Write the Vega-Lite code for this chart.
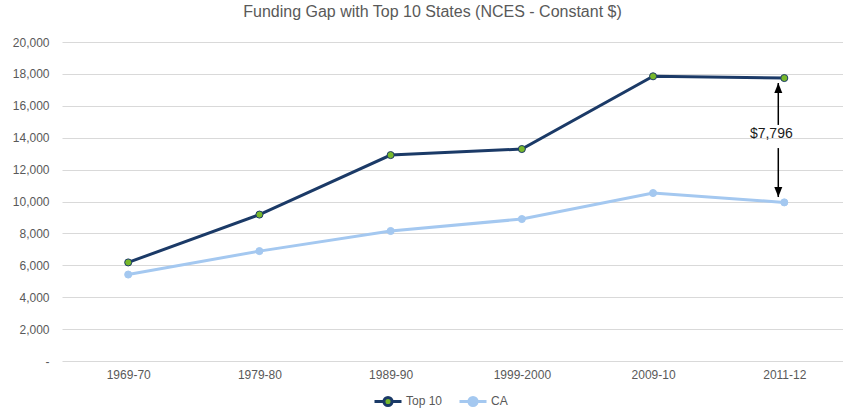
{
  "$schema": "https://vega.github.io/schema/vega-lite/v6.json",
  "width": 781,
  "height": 319,
  "autosize": {"type": "none"},
  "padding": {"left": 62, "top": 42, "right": 0, "bottom": 49},
  "background": "white",
  "title": {
    "text": "Funding Gap with Top 10 States (NCES - Constant $)",
    "fontSize": 16,
    "font": "Liberation Sans",
    "fontWeight": "normal",
    "color": "#595959",
    "anchor": "middle",
    "dx": -20,
    "offset": 16
  },
  "datasets": {
    "main": [
      {"period": "1969-70", "series": "Top 10", "value": 6180},
      {"period": "1979-80", "series": "Top 10", "value": 9180},
      {"period": "1989-90", "series": "Top 10", "value": 12910},
      {"period": "1999-2000", "series": "Top 10", "value": 13290},
      {"period": "2009-10", "series": "Top 10", "value": 17850},
      {"period": "2011-12", "series": "Top 10", "value": 17740},
      {"period": "1969-70", "series": "CA", "value": 5420},
      {"period": "1979-80", "series": "CA", "value": 6890},
      {"period": "1989-90", "series": "CA", "value": 8150},
      {"period": "1999-2000", "series": "CA", "value": 8900},
      {"period": "2009-10", "series": "CA", "value": 10530},
      {"period": "2011-12", "series": "CA", "value": 9944}
    ],
    "arrows": [
      {"period": "2011-12", "from": 14800, "to": 17430, "dir": "up"},
      {"period": "2011-12", "from": 13350, "to": 10280, "dir": "down"}
    ],
    "label": [
      {"period": "2011-12", "value": 14230, "text": "$7,796"}
    ]
  },
  "config": {
    "font": "Liberation Sans",
    "view": {"stroke": null},
    "axisX": {
      "title": null, "domain": false, "ticks": false, "grid": false,
      "labelPadding": 8, "labelFontSize": 12, "labelColor": "#595959", "labelAngle": 0
    },
    "axisY": {
      "title": null, "domain": false, "ticks": false, "grid": true,
      "gridColor": "#D9D9D9", "gridWidth": 1, "tickCount": 20, "labelOverlap": false,
      "labelPadding": 13, "labelFontSize": 12, "labelColor": "#595959"
    },
    "legend": {
      "orient": "none",
      "legendX": 311,
      "legendY": 344,
      "direction": "horizontal",
      "title": null,
      "symbolType": "M-1,0L-0.3,0M0.3,0L1,0M-0.3,0A0.3,0.3 0 1,1 0.3,0A0.3,0.3 0 1,1 -0.3,0Z",
      "symbolSize": 729,
      "symbolStrokeWidth": 3,
      "labelFontSize": 12,
      "labelColor": "#595959",
      "labelOffset": 3,
      "columnPadding": 10
    }
  },
  "layer": [
    {
      "data": {"name": "main"},
      "mark": {"type": "line", "strokeWidth": 3},
      "encoding": {
        "x": {"field": "period", "type": "ordinal", "sort": null, "scale": {"type": "point", "padding": 0.476, "align": 0.53}},
        "y": {"field": "value", "type": "quantitative", "scale": {"domain": [0, 20000], "nice": false},
              "axis": {"values": [0, 2000, 4000, 6000, 8000, 10000, 12000, 14000, 16000, 18000, 20000],
                       "tickCount": 20, "labelOverlap": false,
                       "labelExpr": "datum.value == 0 ? '-' : format(datum.value, ',')"}},
        "stroke": {"field": "series", "type": "nominal",
                   "scale": {"domain": ["Top 10", "CA"], "range": ["#1B3A67", "#A4C8F0"]}}
      }
    },
    {
      "data": {"name": "main"},
      "mark": {"type": "point", "filled": true, "size": 50, "strokeWidth": 1, "opacity": 1},
      "encoding": {
        "x": {"field": "period", "type": "ordinal", "sort": null},
        "y": {"field": "value", "type": "quantitative"},
        "fill": {"field": "series", "type": "nominal",
                 "scale": {"domain": ["Top 10", "CA"], "range": ["#77B82A", "#A4C8F0"]}},
        "stroke": {"field": "series", "type": "nominal"}
      }
    },
    {
      "data": {"name": "arrows"},
      "mark": {"type": "rule", "color": "black", "strokeWidth": 1.5, "xOffset": -6},
      "encoding": {
        "x": {"field": "period", "type": "ordinal", "sort": null},
        "y": {"field": "from", "type": "quantitative"},
        "y2": {"field": "to"}
      }
    },
    {
      "data": {"name": "arrows"},
      "mark": {"type": "point", "filled": true, "color": "black", "size": 400, "opacity": 1, "xOffset": -6},
      "encoding": {
        "x": {"field": "period", "type": "ordinal", "sort": null},
        "y": {"field": "to", "type": "quantitative"},
        "shape": {"field": "dir", "type": "nominal", "legend": null,
                  "scale": {"domain": ["up", "down"], "range": ["M0,0L-0.4,1L0.4,1Z", "M0,0L-0.4,-1L0.4,-1Z"]}}
      }
    },
    {
      "data": {"name": "label"},
      "mark": {"type": "text", "fontSize": 14, "color": "#1a1a1a", "xOffset": -13, "baseline": "middle"},
      "encoding": {
        "x": {"field": "period", "type": "ordinal", "sort": null},
        "y": {"field": "value", "type": "quantitative"},
        "text": {"field": "text"}
      }
    }
  ]
}
